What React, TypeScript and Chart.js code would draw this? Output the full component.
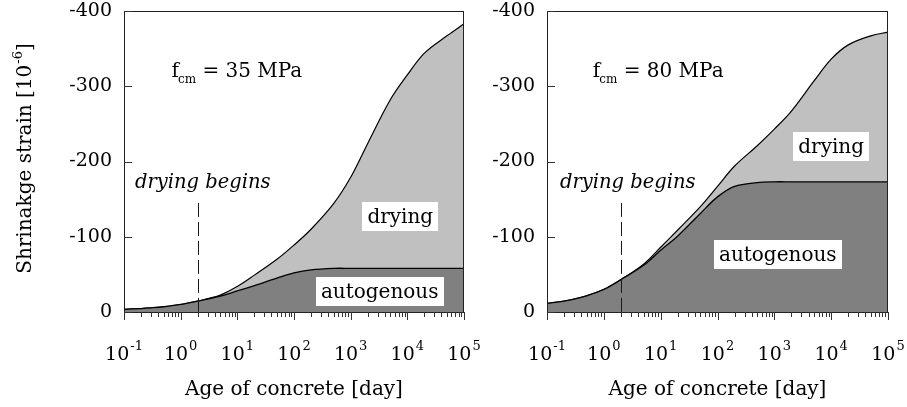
import React, { useEffect, useRef } from 'react';
import { Chart, registerables } from 'chart.js';

Chart.register(...registerables);

const SERIF = "'DejaVu Serif', serif";

// Age of concrete [day] at which the curves are sampled
const DAYS = [0.1, 0.2, 0.3, 0.5, 1, 2, 5, 10, 20, 50, 100, 200, 500, 1000, 2000, 5000, 10000, 20000, 50000, 100000];

// f_cm = 35 MPa: autogenous shrinkage and total (autogenous + drying) shrinkage [1e-6]
const AUTOGENOUS_35 = [-3.5, -4.6, -5.5, -7, -10, -14.5, -21, -28, -35, -45, -52, -56, -58, -58, -58, -58, -58, -58, -58, -58];
const TOTAL_35 = [-3.5, -4.6, -5.5, -7, -10, -14.5, -22.5, -34, -49, -70, -89, -110, -144, -179, -224, -282, -315, -344, -367, -383];

// f_cm = 80 MPa
const AUTOGENOUS_80 = [-11.5, -14.5, -17, -21.5, -30, -43, -62, -82, -101, -131, -153, -167, -172, -173, -173, -173, -173, -173, -173, -173];
const TOTAL_80 = [-11.5, -14.5, -17, -21.5, -30, -43, -63.5, -86, -109, -140, -167, -194, -221, -243, -267, -307, -336, -355, -367, -372];

const Y_TICKS = [-400, -300, -200, -100, 0];
const X_EXPONENTS = [-1, 0, 1, 2, 3, 4, 5];
const DRYING_START = 2;
const DASH_TOP = -145;

type Anchor = { day: number; strain: number };

type PanelSpec = {
  strength: string;
  autogenous: number[];
  total: number[];
  dryingLabel: Anchor;
  autogenousLabel: Anchor;
  strengthLabel: Anchor;
  beginsLabel: Anchor;
  padLeft: number;
  padRight: number;
  yTitle: boolean;
};

const PANEL_35: PanelSpec = {
  strength: '35',
  autogenous: AUTOGENOUS_35,
  total: TOTAL_35,
  dryingLabel: { day: 7500, strain: -127 },
  autogenousLabel: { day: 3250, strain: -27.5 },
  strengthLabel: { day: 0.69, strain: -312 },
  beginsLabel: { day: 0.156, strain: -165 },
  padLeft: 0,
  padRight: 443,
  yTitle: true,
};

const PANEL_80: PanelSpec = {
  strength: '80',
  autogenous: AUTOGENOUS_80,
  total: TOTAL_80,
  dryingLabel: { day: 10000, strain: -220 },
  autogenousLabel: { day: 1150, strain: -76 },
  strengthLabel: { day: 0.64, strain: -312 },
  beginsLabel: { day: 0.169, strain: -165 },
  padLeft: 423,
  padRight: 19,
  yTitle: false,
};

function boxedLabel(ctx: CanvasRenderingContext2D, text: string, cx: number, cy: number) {
  ctx.font = `20px ${SERIF}`;
  const w = ctx.measureText(text).width + 10;
  const h = 29;
  ctx.fillStyle = '#fff';
  ctx.fillRect(Math.round(cx - w / 2), Math.round(cy - h / 2), Math.round(w), h);
  ctx.fillStyle = '#000';
  ctx.textAlign = 'center';
  ctx.textBaseline = 'middle';
  ctx.fillText(text, cx, cy + 1);
}

function makeOverlay(spec: PanelSpec) {
  return {
    id: 'shrinkageOverlay',
    afterDatasetsDraw(chart: any) {
      const { ctx, chartArea: a, scales } = chart;
      const x = scales.x;
      const y = scales.y;
      ctx.save();

      // onset of drying
      const dx = Math.round(x.getPixelForValue(DRYING_START)) + 0.5;
      ctx.strokeStyle = '#1a1a1a';
      ctx.lineWidth = 1;
      ctx.setLineDash([14, 5]);
      ctx.beginPath();
      ctx.moveTo(dx, y.getPixelForValue(DASH_TOP));
      ctx.lineTo(dx, y.getPixelForValue(0));
      ctx.stroke();
      ctx.setLineDash([]);

      boxedLabel(ctx, 'drying', x.getPixelForValue(spec.dryingLabel.day), y.getPixelForValue(spec.dryingLabel.strain));
      boxedLabel(ctx, 'autogenous', x.getPixelForValue(spec.autogenousLabel.day), y.getPixelForValue(spec.autogenousLabel.strain));

      // "drying begins"
      ctx.fillStyle = '#000';
      ctx.textAlign = 'left';
      ctx.textBaseline = 'alphabetic';
      ctx.font = `italic 19.5px ${SERIF}`;
      ctx.fillText('drying begins', x.getPixelForValue(spec.beginsLabel.day), y.getPixelForValue(spec.beginsLabel.strain));

      // f_cm = .. MPa
      let fx = x.getPixelForValue(spec.strengthLabel.day);
      const fy = y.getPixelForValue(spec.strengthLabel.strain);
      ctx.font = `20px ${SERIF}`;
      ctx.fillText('f', fx, fy);
      fx += ctx.measureText('f').width - 1;
      ctx.font = `12px ${SERIF}`;
      ctx.fillText('cm', fx, fy + 6);
      fx += ctx.measureText('cm').width;
      ctx.font = `20px ${SERIF}`;
      ctx.fillText(` = ${spec.strength} MPa`, fx, fy);

      // frame
      ctx.strokeStyle = '#222';
      ctx.lineWidth = 1;
      ctx.strokeRect(Math.round(a.left) + 0.5, Math.round(a.top) + 0.5, Math.round(a.right - a.left) - 1, Math.round(a.bottom - a.top));

      // inward y ticks
      ctx.strokeStyle = '#333';
      for (const v of Y_TICKS) {
        const py = Math.round(y.getPixelForValue(v)) + 0.5;
        ctx.beginPath();
        ctx.moveTo(a.left, py);
        ctx.lineTo(a.left + 8, py);
        ctx.stroke();
      }

      // x ticks: decades and their sub-divisions
      const bottom = Math.round(a.bottom);
      for (const e of X_EXPONENTS) {
        for (let m = 1; m <= 9; m++) {
          const day = m * 10 ** e;
          if (day > 100000 * 1.0001) break;
          const px = Math.round(x.getPixelForValue(day)) + 0.5;
          ctx.beginPath();
          ctx.moveTo(px, bottom);
          ctx.lineTo(px, bottom + (m === 1 ? 8 : 5));
          ctx.stroke();
        }
      }

      // x tick labels 10^n
      ctx.fillStyle = '#000';
      ctx.textAlign = 'left';
      ctx.textBaseline = 'alphabetic';
      for (const e of X_EXPONENTS) {
        const px = x.getPixelForValue(10 ** e);
        const base = '10';
        const sup = String(e);
        ctx.font = `19px ${SERIF}`;
        const wb = ctx.measureText(base).width;
        ctx.font = `13px ${SERIF}`;
        const ws = ctx.measureText(sup).width;
        const left = px - (wb + ws + 1) / 2;
        ctx.font = `19px ${SERIF}`;
        ctx.fillText(base, left, a.bottom + 48);
        ctx.font = `13px ${SERIF}`;
        ctx.fillText(sup, left + wb + 1, a.bottom + 38);
      }

      // x axis title
      ctx.font = `20px ${SERIF}`;
      ctx.textAlign = 'center';
      ctx.fillText('Age of concrete [day]', (a.left + a.right) / 2, a.bottom + 83);

      // y axis title with exponent
      if (spec.yTitle) {
        const main = 'Shrinakge strain [10';
        const sup = '-6';
        const tail = ']';
        ctx.font = `20px ${SERIF}`;
        const wm = ctx.measureText(main).width;
        const wt = ctx.measureText(tail).width;
        ctx.font = `13px ${SERIF}`;
        const ws = ctx.measureText(sup).width;
        const total = wm + ws + wt + 1;
        ctx.translate(31, (a.top + a.bottom) / 2 - 3);
        ctx.rotate(-Math.PI / 2);
        ctx.textAlign = 'left';
        const start = -total / 2;
        ctx.font = `20px ${SERIF}`;
        ctx.fillText(main, start, 0);
        ctx.font = `13px ${SERIF}`;
        ctx.fillText(sup, start + wm + 1, -9);
        ctx.font = `20px ${SERIF}`;
        ctx.fillText(tail, start + wm + ws + 1, 0);
      }

      ctx.restore();
    },
  };
}

function ShrinkagePanel({ spec }: { spec: PanelSpec }) {
  const ref = useRef<HTMLCanvasElement | null>(null);

  useEffect(() => {
    const canvas = ref.current;
    if (!canvas) return;
    const points = (vals: number[]) => DAYS.map((d, i) => ({ x: d, y: vals[i] }));
    const chart = new Chart(canvas, {
      type: 'line',
      data: {
        datasets: [
          {
            label: 'autogenous',
            data: points(spec.autogenous),
            borderColor: '#000',
            borderWidth: 1.3,
            backgroundColor: '#808080',
            fill: 'origin',
            pointRadius: 0,
            tension: 0.35,
          },
          {
            label: 'drying',
            data: points(spec.total),
            borderColor: '#000',
            borderWidth: 1.2,
            backgroundColor: '#c0c0c0',
            fill: '-1',
            pointRadius: 0,
            tension: 0.35,
          },
        ],
      },
      options: {
        animation: false,
        responsive: false,
        events: [],
        layout: { padding: { top: 11, right: spec.padRight, bottom: 0, left: spec.padLeft } },
        plugins: { legend: { display: false }, tooltip: { enabled: false } },
        scales: {
          x: {
            type: 'logarithmic',
            min: 0.1,
            max: 100000,
            grid: { display: false },
            border: { display: false },
            ticks: { display: false },
            afterFit: (s: any) => {
              s.height = 95;
              s.paddingLeft = 0;
              s.paddingRight = 0;
            },
          },
          y: {
            min: -400,
            max: 0,
            reverse: true,
            grid: { display: false, drawTicks: false },
            border: { display: false },
            afterBuildTicks: (s: any) => {
              s.ticks = Y_TICKS.map((v) => ({ value: v }));
            },
            ticks: { color: '#000', font: { family: SERIF, size: 19 }, padding: 12, autoSkip: false },
            afterFit: (s: any) => {
              s.width = 124;
              s.paddingTop = 0;
              s.paddingBottom = 0;
            },
          },
        },
      } as any,
      plugins: [makeOverlay(spec)],
    });
    return () => chart.destroy();
  }, [spec]);

  return (
    <canvas
      ref={ref}
      width={907}
      height={407}
      style={{ position: 'absolute', left: 0, top: 0, width: 907, height: 407 }}
    />
  );
}

export default function App() {
  return (
    <div style={{ position: 'absolute', left: 0, top: 0, width: 907, height: 407, background: '#fff', overflow: 'hidden' }}>
      <ShrinkagePanel spec={PANEL_35} />
      <ShrinkagePanel spec={PANEL_80} />
    </div>
  );
}
